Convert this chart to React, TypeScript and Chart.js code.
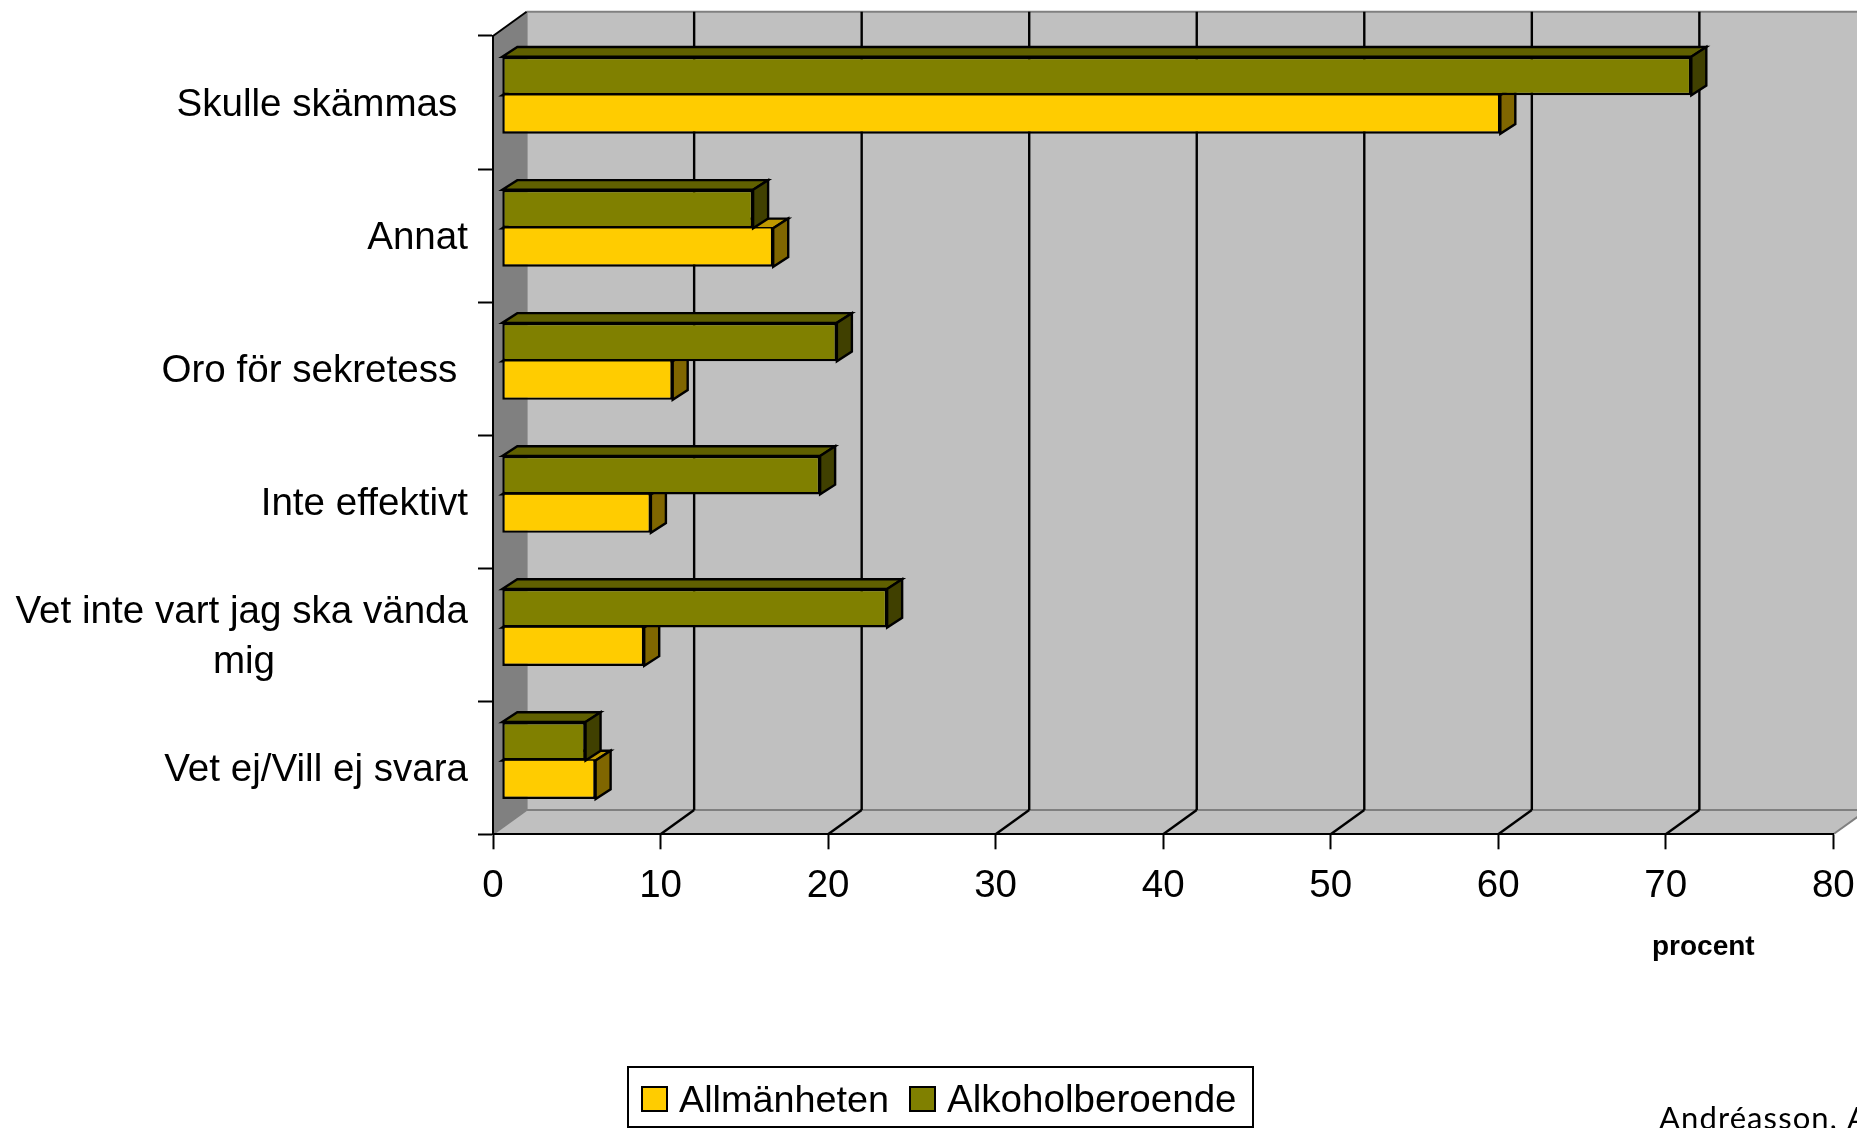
import React, { useEffect, useRef } from "react";
import { Chart, registerables } from "chart.js";

Chart.register(...registerables);

// Survey answers, listed from the top row of the chart to the bottom.
const categories = [
  "Skulle skämmas ",
  "Annat",
  "Oro för sekretess ",
  "Inte effektivt",
  ["Vet inte vart jag ska vända", "mig"],
  "Vet ej/Vill ej svara",
];
const allmanheten = [59.6, 16.2, 10.2, 8.9, 8.5, 5.6];
const alkoholberoende = [71, 15, 20, 19, 23, 5];
const seriesNames = ["Allmänheten", "Alkoholberoende"];
const axisTitle = "procent";
const sourceNote = "Andréasson, A";

const FONT = '"Liberation Sans", Arial, sans-serif';
const WALL_DX = 33.6;
const WALL_DY = 24.3;
const BAR_DX = 15;
const BAR_DY = 9.7;
const FACE_DX = 8.8;
const FACE_DY = 7.3;
const EDGE = 2.4;

const palette = [
  { front: "#FFCC00", top: "#BF9900", side: "#806600" },
  { front: "#808000", top: "#606000", side: "#404000" },
];

function poly(ctx: CanvasRenderingContext2D, pts: number[][], fill: string, stroke?: string, lw = 2) {
  ctx.beginPath();
  pts.forEach(([x, y], i) => (i ? ctx.lineTo(x, y) : ctx.moveTo(x, y)));
  ctx.closePath();
  ctx.fillStyle = fill;
  ctx.fill();
  if (stroke) {
    ctx.strokeStyle = stroke;
    ctx.lineWidth = lw;
    ctx.lineJoin = "miter";
    ctx.stroke();
  }
}

function line(ctx: CanvasRenderingContext2D, x1: number, y1: number, x2: number, y2: number, color: string, lw = 2) {
  ctx.beginPath();
  ctx.moveTo(x1, y1);
  ctx.lineTo(x2, y2);
  ctx.strokeStyle = color;
  ctx.lineWidth = lw;
  ctx.stroke();
}

// Back wall, side wall and floor of the 3D plot box.
const plotBox = {
  id: "plotBox",
  // Category labels sit slightly below the middle of their band.
  afterLayout(chart: any) {
    chart.scales.y.getLabelItems().forEach((item: any) => {
      item.textOffset += 2.5;
    });
  },
  beforeDraw(chart: any) {
    const { ctx, chartArea: a, scales } = chart;
    const bx = a.left + WALL_DX;
    const rx = a.right + WALL_DX;
    const ty = a.top - WALL_DY;
    const by = a.bottom - WALL_DY;
    ctx.save();
    poly(ctx, [[bx, ty], [rx, ty], [rx, by], [bx, by]], "#C0C0C0");
    poly(ctx, [[a.left, a.bottom], [a.right, a.bottom], [rx, by], [bx, by]], "#C0C0C0");
    poly(ctx, [[a.left, a.top], [bx, ty], [bx, by], [a.left, a.bottom]], "#808080");
    line(ctx, bx, ty, rx, ty, "#808080");
    line(ctx, bx, by, rx, by, "#808080");
    line(ctx, bx, ty, bx, by, "#808080");
    line(ctx, a.left, a.bottom, bx, by, "#808080");
    line(ctx, a.right, a.bottom, rx, by, "#808080");
    line(ctx, a.left, a.top, bx, ty, "#000000");
    scales.x.ticks.forEach((t: any) => {
      if (t.value === 0 || t.value === 80) return;
      const x = scales.x.getPixelForValue(t.value);
      line(ctx, x + WALL_DX, ty, x + WALL_DX, by, "#000000", EDGE);
      line(ctx, x, a.bottom, x + WALL_DX, by, "#000000", EDGE);
    });
    ctx.restore();
  },
  // Shifts each series into the box's depth and adds the top and end faces of its bars.
  beforeDatasetDraw(chart: any, args: any) {
    const { ctx } = chart;
    const p = palette[args.index];
    ctx.save();
    ctx.translate(FACE_DX, -FACE_DY);
    args.meta.data.forEach((bar: any) => {
      const { x, y, base, height } = bar.getProps(["x", "y", "base", "height"], true);
      const t = y - height / 2;
      const b = y + height / 2;
      poly(ctx, [[base, t], [base + BAR_DX, t - BAR_DY], [x + BAR_DX, t - BAR_DY], [x, t]], p.top, "#000000", EDGE);
      poly(ctx, [[x, t], [x + BAR_DX, t - BAR_DY], [x + BAR_DX, b - BAR_DY], [x, b]], p.side, "#000000", EDGE);
    });
  },
  afterDatasetDraw(chart: any) {
    chart.ctx.restore();
  },
  // Axis caption, boxed legend and source note.
  afterDraw(chart: any) {
    const { ctx } = chart;
    ctx.save();
    ctx.fillStyle = "#000000";
    ctx.textBaseline = "alphabetic";
    ctx.textAlign = "left";
    ctx.font = `bold 28px ${FONT}`;
    ctx.fillText(axisTitle, 1652, 955);

    ctx.strokeStyle = "#000000";
    ctx.lineWidth = 2;
    ctx.fillStyle = "#FFFFFF";
    ctx.fillRect(628, 1067, 625, 60);
    ctx.strokeRect(628, 1067, 625, 60);
    const items = [
      { box: 642, text: 679, size: 37.8 },
      { box: 910, text: 947, size: 38.6 },
    ];
    chart.data.datasets.forEach((d: any, i: number) => {
      ctx.fillStyle = d.backgroundColor;
      ctx.fillRect(items[i].box, 1087, 25, 24);
      ctx.strokeRect(items[i].box, 1087, 25, 24);
      ctx.fillStyle = "#000000";
      ctx.font = `${items[i].size}px ${FONT}`;
      ctx.fillText(d.label, items[i].text, 1112);
    });

    ctx.font = `31px Lato, sans-serif`;
    (ctx as any).letterSpacing = "1.1px";
    ctx.fillText(sourceNote, 1659, 1129);
    ctx.restore();
  },
};

export default function App() {
  const ref = useRef<HTMLCanvasElement>(null);
  useEffect(() => {
    document.body.style.margin = "0";
    const chart = new Chart(ref.current!, {
      type: "bar",
      plugins: [plotBox],
      data: {
        labels: categories as any,
        datasets: [
          {
            label: seriesNames[0],
            data: allmanheten,
            order: 2,
            backgroundColor: palette[0].front,
            borderColor: "#000000",
            borderWidth: { left: EDGE, right: EDGE, bottom: EDGE, top: 0 },
            borderSkipped: false,
            clip: false as any,
          },
          {
            label: seriesNames[1],
            data: alkoholberoende,
            order: 1,
            backgroundColor: palette[1].front,
            borderColor: "#000000",
            borderWidth: EDGE,
            borderSkipped: false,
            clip: false as any,
          },
        ],
      },
      options: {
        indexAxis: "y",
        animation: false,
        responsive: false,
        maintainAspectRatio: false,
        layout: { padding: { left: 0, right: 23.7, top: 36, bottom: 0 } },
        plugins: { legend: { display: false }, title: { display: false }, tooltip: { enabled: false } },
        datasets: { bar: { categoryPercentage: 0.578, barPercentage: 1 } },
        scales: {
          x: {
            type: "linear",
            min: 0,
            max: 80,
            afterFit(s: any) {
              s.height = 293.7;
              s.paddingLeft = 0;
              s.paddingRight = 0;
            },
            ticks: {
              stepSize: 10,
              color: "#000000",
              padding: 14,
              maxRotation: 0,
              font: { family: FONT, size: 38.5 },
            },
            grid: { drawOnChartArea: false, drawTicks: true, tickLength: 15, tickColor: "#000000", tickWidth: 2 },
            border: { color: "#000000", width: 2 },
          },
          y: {
            type: "category",
            afterFit(s: any) {
              s.width = 493;
              s.paddingTop = 0;
              s.paddingBottom = 0;
            },
            ticks: {
              color: "#000000",
              padding: 10,
              autoSkip: false,
              font: { family: FONT, size: 38.6, lineHeight: 1.28 },
              // The second line of a wrapped label is padded so it sits centred under the first.
              callback(this: any, v: any) {
                const l = categories[v];
                return Array.isArray(l) ? [l[0], l[1] + " ".repeat(18)] : l;
              },
            },
            grid: { drawOnChartArea: false, drawTicks: true, tickLength: 15, tickColor: "#000000", tickWidth: 2, offset: true },
            border: { color: "#000000", width: 2 },
          },
        },
      },
    } as any);
    return () => chart.destroy();
  }, []);
  return (
    <div style={{ position: "fixed", left: 0, top: 0, width: 1857, height: 1128, overflow: "hidden", background: "#fff" }}>
      <canvas ref={ref} width={1857} height={1128} style={{ display: "block" }} />
    </div>
  );
}
